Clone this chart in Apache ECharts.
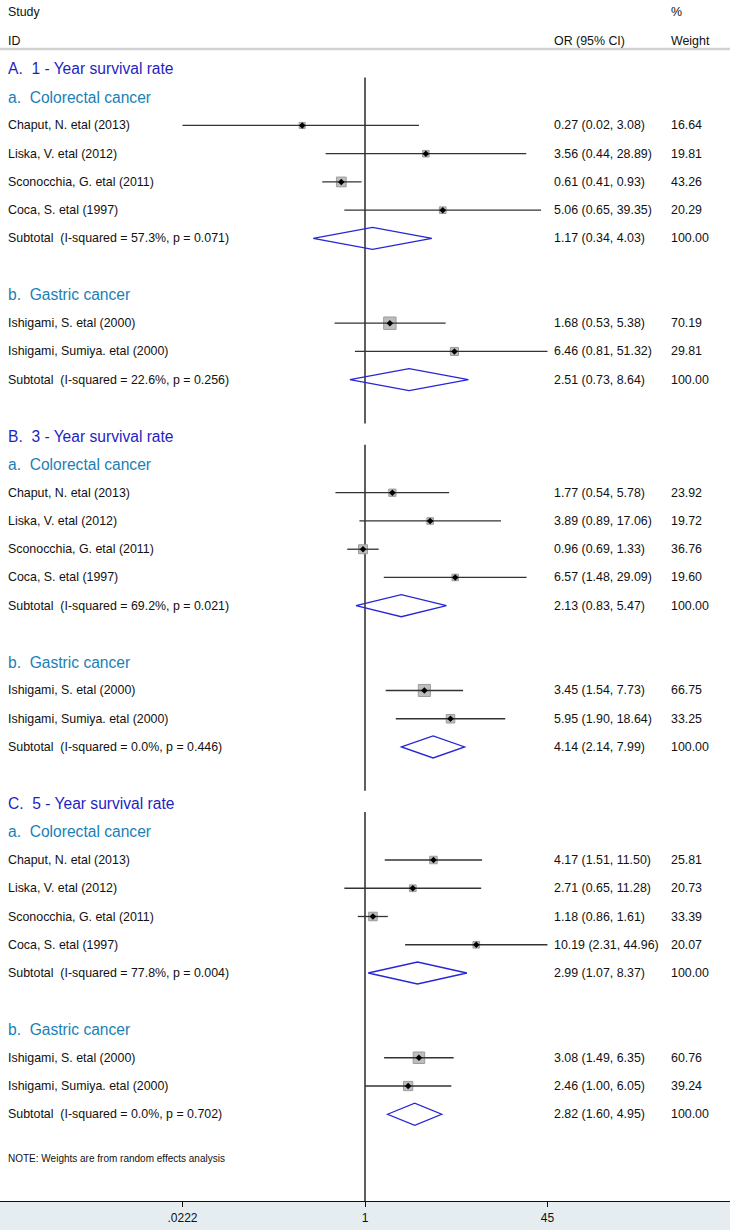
<!DOCTYPE html>
<html>
<head>
<meta charset="utf-8">
<title>Forest plot</title>
<script src="https://cdn.jsdelivr.net/npm/echarts@6/dist/echarts.min.js"></script>
<style>
  html, body { margin: 0; padding: 0; background: #fff; }
  #chart { width: 730px; height: 1230px; }
</style>
</head>
<body>
<div id="chart"></div>
<script>
const sections = ['A.  1 - Year survival rate', 'B.  3 - Year survival rate', 'C.  5 - Year survival rate']
const subgroups = ['a.  Colorectal cancer', 'b.  Gastric cancer']
const crcStudies = ['Chaput, N. etal (2013)', 'Liska, V. etal (2012)', 'Sconocchia, G. etal (2011)', 'Coca, S. etal (1997)']
const gcStudies = ['Ishigami, S. etal (2000)', 'Ishigami, Sumiya. etal (2000)']

// studies in order: 1y crc, 1y gc, 3y crc, 3y gc, 5y crc, 5y gc
const studyOr = [0.27, 3.56, 0.61, 5.06, 1.68, 6.46, 1.77, 3.89, 0.96, 6.57, 3.45, 5.95, 4.17, 2.71, 1.18, 10.19, 3.08, 2.46]
const studyLo = [0.02, 0.44, 0.41, 0.65, 0.53, 0.81, 0.54, 0.89, 0.69, 1.48, 1.54, 1.90, 1.51, 0.65, 0.86, 2.31, 1.49, 1.00]
const studyHi = [3.08, 28.89, 0.93, 39.35, 5.38, 51.32, 5.78, 17.06, 1.33, 29.09, 7.73, 18.64, 11.50, 11.28, 1.61, 44.96, 6.35, 6.05]
const studyWt = [16.64, 19.81, 43.26, 20.29, 70.19, 29.81, 23.92, 19.72, 36.76, 19.60, 66.75, 33.25, 25.81, 20.73, 33.39, 20.07, 60.76, 39.24]

const subOr = [1.17, 2.51, 2.13, 4.14, 2.99, 2.82]
const subLo = [0.34, 0.73, 0.83, 2.14, 1.07, 1.60]
const subHi = [4.03, 8.64, 5.47, 7.99, 8.37, 4.95]
const subI2 = ['57.3%', '22.6%', '69.2%', '0.0%', '77.8%', '0.0%']
const subP = ['0.071', '0.256', '0.021', '0.446', '0.004', '0.702']

const tickLabels = ['.0222', '1', '45']
const note = 'NOTE: Weights are from random effects analysis'

const FONT = '"Liberation Sans", Arial, sans-serif'
const colX = { left: 8, or: 554, wt: 671 }
const yMin = -2.44
const yMax = 40.07
const clipLo = 1 / 45
const clipHi = 45

// build the table rows
const textRows = []
const studyRows = []
const subRows = []
const nullSegs = []
textRows.push({ row: -2, col: 'left', text: 'Study' })
textRows.push({ row: -2, col: 'wt', text: '%' })
textRows.push({ row: -1, col: 'left', text: 'ID' })
textRows.push({ row: -1, col: 'or', text: 'OR (95% CI)' })
textRows.push({ row: -1, col: 'wt', text: 'Weight' })

let r = 0, si = 0, gi = 0
const f2 = v => v.toFixed(2)
sections.forEach((title, s) => {
    const top = r
    textRows.push({ row: r, col: 'left', text: title, kind: 'section' })
    r++
    subgroups.forEach((g, k) => {
        textRows.push({ row: r, col: 'left', text: g, kind: 'group' })
        r++
        const names = k === 0 ? crcStudies : gcStudies
        names.forEach(n => {
            studyRows.push([studyOr[si], studyLo[si], studyHi[si], r, studyWt[si]])
            textRows.push({ row: r, col: 'left', text: n })
            textRows.push({ row: r, col: 'or', text: f2(studyOr[si]) + ' (' + f2(studyLo[si]) + ', ' + f2(studyHi[si]) + ')' })
            textRows.push({ row: r, col: 'wt', text: f2(studyWt[si]) })
            si++
            r++
        })
        subRows.push([subOr[gi], subLo[gi], subHi[gi], r])
        textRows.push({ row: r, col: 'left', text: 'Subtotal\u00a0\u00a0(I-squared = ' + subI2[gi] + ', p = ' + subP[gi] + ')' })
        textRows.push({ row: r, col: 'or', text: f2(subOr[gi]) + ' (' + f2(subLo[gi]) + ', ' + f2(subHi[gi]) + ')' })
        textRows.push({ row: r, col: 'wt', text: '100.00' })
        gi++
        r++
        r++ // blank line
    })
    nullSegs.push([1, top + 0.3, s < sections.length - 1 ? r - 0.45 : yMax])
})
textRows.push({ row: r - 0.45, col: 'left', text: note, kind: 'note' })

const textStyles = {
    section: { font: '15.6px ' + FONT, fill: '#1f1fc4' },
    group: { font: '15.6px ' + FONT, fill: '#1b7fb6' },
    note: { font: '10px ' + FONT, fill: '#111' },
    plain: { font: '12.4px ' + FONT, fill: '#111' }
}

const myChart = echarts.init(document.getElementById('chart'), null, { renderer: 'svg' })
const option = {
    backgroundColor: '#e6edf0',
    animation: false,
    grid: { left: -2, right: -2, top: 0, bottom: 29, show: true, backgroundColor: '#fff', borderWidth: 0 },
    xAxis: {
        type: 'log',
        logBase: 45,
        min: 1 / 2025,
        max: 2025,
        splitNumber: 4,
        axisLine: { show: true, onZero: false, lineStyle: { color: '#111', width: 1.2 } },
        axisTick: { show: true, length: 6, lineStyle: { color: '#111' } },
        axisLabel: {
            color: '#111',
            fontSize: 12,
            fontFamily: FONT,
            margin: 11,
            showMinLabel: false,
            showMaxLabel: false,
            formatter: v => {
                const i = Math.round(Math.log(v) / Math.log(45)) + 1
                return i >= 0 && i < tickLabels.length ? tickLabels[i] : ''
            }
        },
        splitLine: { show: false }
    },
    yAxis: { type: 'value', inverse: true, min: yMin, max: yMax, show: false },
    series: [
        {
            // line of no effect
            type: 'custom',
            data: nullSegs,
            encode: { x: 0, y: [1, 2] },
            renderItem: (params, api) => {
                const p0 = api.coord([api.value(0), api.value(1)])
                const p1 = api.coord([api.value(0), api.value(2)])
                return {
                    type: 'line',
                    shape: { x1: p0[0], y1: p0[1], x2: p1[0], y2: p1[1] },
                    style: { stroke: '#2a2a2a', lineWidth: 1.5 }
                }
            }
        },
        {
            // table text and header rule
            type: 'custom',
            data: textRows.map(t => [1, t.row]),
            encode: { x: 0, y: 1 },
            renderItem: (params, api) => {
                const t = textRows[params.dataIndex]
                const y = api.coord([1, api.value(1)])[1]
                const st = textStyles[t.kind || 'plain']
                const children = [{
                    type: 'text',
                    style: {
                        text: t.text, x: colX[t.col], y: y,
                        font: st.font, fill: st.fill,
                        align: 'left', verticalAlign: 'middle',
                        textAlign: 'left', textVerticalAlign: 'middle'
                    }
                }]
                if (params.dataIndex === 0) {
                    const yr = api.coord([1, -0.71])[1]
                    children.push({
                        type: 'line',
                        shape: { x1: params.coordSys.x, y1: yr, x2: params.coordSys.x + params.coordSys.width, y2: yr },
                        style: { stroke: '#d2d2d2', lineWidth: 2.5 }
                    })
                }
                return { type: 'group', children: children }
            }
        },
        {
            // individual studies
            type: 'custom',
            data: studyRows,
            encode: { x: [0, 1, 2], y: 3 },
            renderItem: (params, api) => {
                const row = api.value(3)
                const c = api.coord([api.value(0), row])
                const a = api.coord([Math.max(api.value(1), clipLo), row])
                const b = api.coord([Math.min(api.value(2), clipHi), row])
                const half = 0.74 * Math.sqrt(api.value(4))
                const d = 3.3
                return {
                    type: 'group',
                    children: [
                        {
                            type: 'rect',
                            shape: { x: c[0] - half, y: c[1] - half, width: half * 2, height: half * 2 },
                            style: { fill: '#bdbdbd', stroke: '#9c9c9c', lineWidth: 1 }
                        },
                        {
                            type: 'line',
                            shape: { x1: a[0], y1: a[1], x2: b[0], y2: b[1] },
                            style: { stroke: '#333', lineWidth: 1.3 }
                        },
                        {
                            type: 'polygon',
                            shape: { points: [[c[0] - d, c[1]], [c[0], c[1] - d], [c[0] + d, c[1]], [c[0], c[1] + d]] },
                            style: { fill: '#000' }
                        }
                    ]
                }
            }
        },
        {
            // pooled subtotals
            type: 'custom',
            data: subRows,
            encode: { x: [0, 1, 2], y: 3 },
            renderItem: (params, api) => {
                const row = api.value(3)
                const c = api.coord([api.value(0), row])
                const a = api.coord([api.value(1), row])
                const b = api.coord([api.value(2), row])
                const h = 11
                return {
                    type: 'polygon',
                    shape: { points: [[a[0], c[1]], [c[0], c[1] - h], [b[0], c[1]], [c[0], c[1] + h]] },
                    style: { fill: 'none', stroke: '#2626d6', lineWidth: 1.3 }
                }
            }
        }
    ]
}
myChart.setOption(option)
</script>
</body>
</html>
